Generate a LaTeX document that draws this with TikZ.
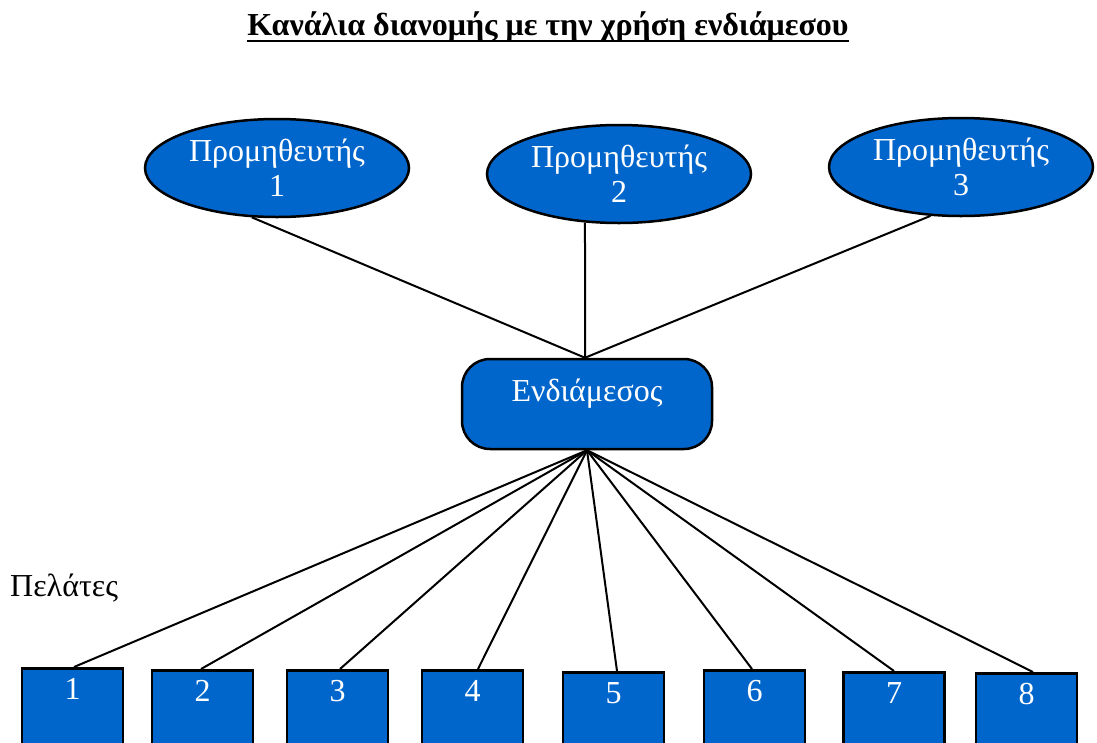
\documentclass[tikz,border=0pt]{standalone}
\usepackage{fontspec}
\setmainfont{Liberation Serif}
\usetikzlibrary{shapes.geometric}
\definecolor{nodeblue}{HTML}{0066CC}
\tikzset{
  supplier/.style={ellipse, draw=black, line width=2.5pt, fill=nodeblue, text=white,
    minimum width=264pt, minimum height=98pt, inner sep=0pt, align=center,
    font=\fontsize{32}{35}\selectfont},
  midbox/.style={rectangle, rounded corners=28pt, draw=black, line width=2.5pt, fill=nodeblue,
    minimum width=250pt, minimum height=90pt, inner sep=0pt},
  custbox/.style={rectangle, draw=black, line width=2.5pt, fill=nodeblue,
    minimum width=101pt, minimum height=95pt, inner sep=0pt, anchor=north},
  whitetxt/.style={text=white, inner sep=0pt, anchor=base, font=\fontsize{32}{35}\selectfont},
  link/.style={draw=black, line width=2pt},
}
\begin{document}
\begin{tikzpicture}[x=1pt,y=-1pt]
\useasboundingbox (0,0) rectangle (1097,742);
% title
\node[inner sep=0pt, anchor=base, font=\fontsize{32}{36}\selectfont\bfseries] (title) at (548,35) {Κανάλια διανομής με την χρήση ενδιάμεσου};
\draw[line width=2.5pt] ([yshift=-6pt]title.base west) -- ([yshift=-6pt]title.base east);
% suppliers
\node[supplier] (e1) at (277,168) {Προμηθευτής\\1};
\node[supplier] (e2) at (619,174) {Προμηθευτής\\2};
\node[supplier] (e3) at (961,167) {Προμηθευτής\\3};
% intermediary
\node[midbox] (mid) at (587,404) {};
\node[whitetxt] (midtxt) at (587,401) {Ενδιάμεσος};
% supplier links
\draw[link] (e1.243) -- ([xshift=-2pt]mid.north);
\draw[link] (e2.235) -- ([xshift=-2pt]mid.north);
\draw[link] (e3.238) -- ([xshift=-2pt]mid.north);
% customers label
\node[inner sep=0pt, anchor=base west, font=\fontsize{32}{35}\selectfont] (cust) at (10,596) {Πελάτες};
% customer boxes
\foreach \i/\x/\y in {1/72.5/667, 2/202.5/669, 3/337.5/669, 4/472.5/669, 5/613.5/671, 6/754.5/669, 7/894/671, 8/1026.5/672}{
  \node[custbox] (b\i) at (\x,\y) {};
  \node[whitetxt] (t\i) at (\x,\y+32) {\i};
}
% customer links
\draw[link] (mid.south) -- ([xshift=1.5pt]b1.north);
\draw[link] (mid.south) -- ([xshift=-1.5pt]b2.north);
\draw[link] (mid.south) -- ([xshift=2.5pt]b3.north);
\draw[link] (mid.south) -- ([xshift=5.5pt]b4.north);
\draw[link] (mid.south) -- ([xshift=3.5pt]b5.north);
\draw[link] (mid.south) -- ([xshift=-2.5pt]b6.north);
\draw[link] (mid.south) -- (b7.north);
\draw[link] (mid.south) -- ([xshift=6.5pt]b8.north);
\end{tikzpicture}
\end{document}
